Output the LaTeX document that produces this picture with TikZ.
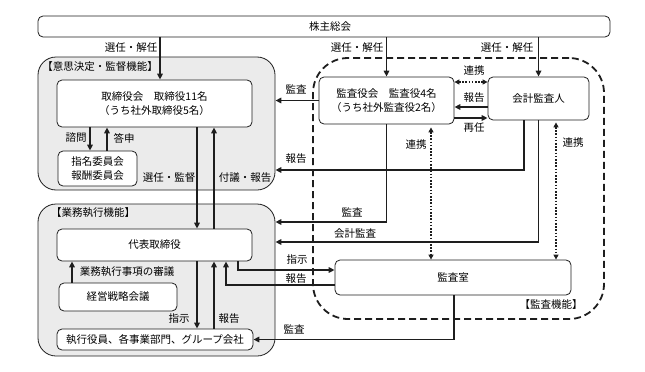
\documentclass[tikz,border=0pt]{standalone}
\usepackage{fontspec}
\setmainfont{Noto Sans CJK JP}
\usetikzlibrary{arrows.meta}
\definecolor{grpfill}{HTML}{EBEBEB}
\definecolor{inkblk}{HTML}{1E1E1E}

\begin{document}
\begin{tikzpicture}[x=1pt, y=-1pt,
    font=\fontsize{10.5}{13.5}\selectfont,
    grp/.style={draw=inkblk, fill=grpfill, rounded corners=18pt, line width=0.8pt,
                minimum width=237pt, inner sep=0pt},
    box/.style={draw=inkblk, fill=white, rounded corners=5pt, line width=0.8pt,
                align=center, inner sep=0pt},
    arr/.style={draw=inkblk, line width=1.6pt, -{Triangle[length=6pt,width=5.5pt]}},
    link/.style={draw=inkblk, line width=1.6pt, dash pattern=on 1.6pt off 1.6pt,
                 {Triangle[length=5pt,width=5pt]}-{Triangle[length=5pt,width=5pt]}},
    lbl/.style={inner sep=0pt}]
  \useasboundingbox (0,0) rectangle (645,372);

  % groups
  \node[grp, minimum height=133pt] (grp1) at (156.5,123.5) {};
  \node[grp, minimum height=152pt] (grp2) at (156.5,280) {};
  \node[draw=inkblk, line width=1.8pt, dash pattern=on 7pt off 4pt,
        rounded corners=35pt, minimum width=291pt, minimum height=261pt,
        inner sep=0pt] (audit) at (458.5,188.5) {};
  \node[lbl] (grp1-t) at (100,67) {【意思決定・監督機能】};
  \node[lbl] (grp2-t) at (93,213) {【業務執行機能】};
  \node[lbl] (audit-t) at (551,305) {【監査機能】};

  % boxes
  \node[box, minimum width=572pt, minimum height=21pt] (kabu) at (324,26.5) {\hspace*{12pt}株主総会};
  \node[box, minimum width=195pt, minimum height=47pt] (tb) at (154.5,103.5)
       {取締役会　取締役11名\\（うち社外取締役5名）};
  \node[box, minimum width=79pt, minimum height=35pt] (iin) at (97.5,168.5)
       {指名委員会\\報酬委員会};
  \node[box, minimum width=195pt, minimum height=32pt] (daihyo) at (154.5,245) {代表取締役};
  \node[box, minimum width=118pt, minimum height=28pt] (keiei) at (118,297) {経営戦略会議};
  \node[box, minimum width=196pt, minimum height=21pt] (shikko) at (155,339.5)
       {執行役員、各事業部門、グループ会社};
  \node[box, minimum width=135pt, minimum height=47pt] (kansayaku) at (386.5,100.5)
       {監査役会　監査役4名\\（うち社外監査役2名）};
  \node[box, minimum width=101pt, minimum height=43pt] (kaikei) at (538.5,98.5) {会計監査人};
  \node[box, minimum width=236pt, minimum height=35pt] (shitsu) at (453,277.5) {監査室};

  % shareholders
  \draw[arr] (kabu.south -| 160,0) -- (tb.north -| 160,0);
  \draw[arr] (kabu.south -| kansayaku.north) -- (kansayaku.north);
  \draw[arr] (kabu.south -| kaikei.north) -- (kaikei.north);
  \node[lbl] (l-sen1) at (131,48) {選任・解任};
  \node[lbl] (l-sen2) at (357,48) {選任・解任};
  \node[lbl] (l-sen3) at (507,48) {選任・解任};

  % board
  \draw[arr] (tb.south -| 90,0) -- (iin.north -| 90,0);
  \draw[arr] (iin.north -| 107,0) -- (tb.south -| 107,0);
  \node[lbl] (l-shimon) at (76,138) {諮問};
  \node[lbl] (l-toshin) at (124,138) {答申};
  \draw[arr] (tb.south -| 197,0) -- (daihyo.north -| 197,0);
  \draw[arr] (daihyo.north -| 214,0) -- (tb.south -| 214,0);
  \node[lbl] (l-senkan) at (169,178) {選任・監督};
  \node[lbl] (l-fugi) at (245,178) {付議・報告};

  % execution
  \draw[arr] (keiei.north -| 72,0) -- (daihyo.south -| 72,0);
  \node[lbl] (l-shingi) at (127,272) {業務執行事項の審議};
  \draw[arr] (daihyo.south -| 197,0) -- (shikko.north -| 197,0);
  \draw[arr] (shikko.north -| 214,0) -- (daihyo.south -| 214,0);
  \node[lbl] (l-shiji1) at (179,319) {指示};
  \node[lbl] (l-hokoku1) at (229,319) {報告};

  % auditors
  \draw[arr] (kansayaku.west) -- (grp1.east |- kansayaku.west);
  \node[lbl] (l-kansa1) at (296,89) {監査};
  \draw[link] (kansayaku.east |- 0,82) -- (kaikei.west |- 0,82);
  \node[lbl] (l-renkei1) at (474,71) {連携};
  \draw[arr] (kaikei.west |- 0,107) -- (kansayaku.east |- 0,107);
  \node[lbl] (l-hokoku2) at (474,98) {報告};
  \draw[arr] (kansayaku.east |- 0,118) -- (kaikei.west |- 0,118);
  \node[lbl] (l-sainin) at (474,128) {再任};
  \draw[arr] (kaikei.south -| 524,0) |- (grp1.east |- 0,170);
  \node[lbl] (l-hokoku3) at (296,159) {報告};
  \draw[link, shorten <=3pt] (kansayaku.south -| 431,0) -- (shitsu.north -| 431,0);
  \node[lbl] (l-renkei2) at (416,145) {連携};
  \draw[link, shorten <=2pt] (kaikei.south -| 556,0) -- (shitsu.north -| 556,0);
  \node[lbl] (l-renkei3) at (573,143) {連携};
  \draw[arr] (kansayaku.south) |- (grp2.east |- 0,222);
  \node[lbl] (l-kansa2) at (352,212) {監査};
  \draw[arr] (kaikei.south) |- (grp2.east |- 0,242);
  \node[lbl] (l-kaikei) at (355,234) {会計監査};

  % internal audit
  \draw[arr] (daihyo.south -| 238,0) |- (shitsu.west |- 0,270);
  \node[lbl] (l-shiji2) at (297,260) {指示};
  \draw[arr] (shitsu.west |- 0,285) -| (daihyo.south -| 226,0);
  \node[lbl] (l-hokoku4) at (296,279) {報告};
  \draw[arr] (shitsu.south -| 454,0) |- (shikko.east);
  \node[lbl] (l-kansa3) at (294,329) {監査};
\end{tikzpicture}
\end{document}
